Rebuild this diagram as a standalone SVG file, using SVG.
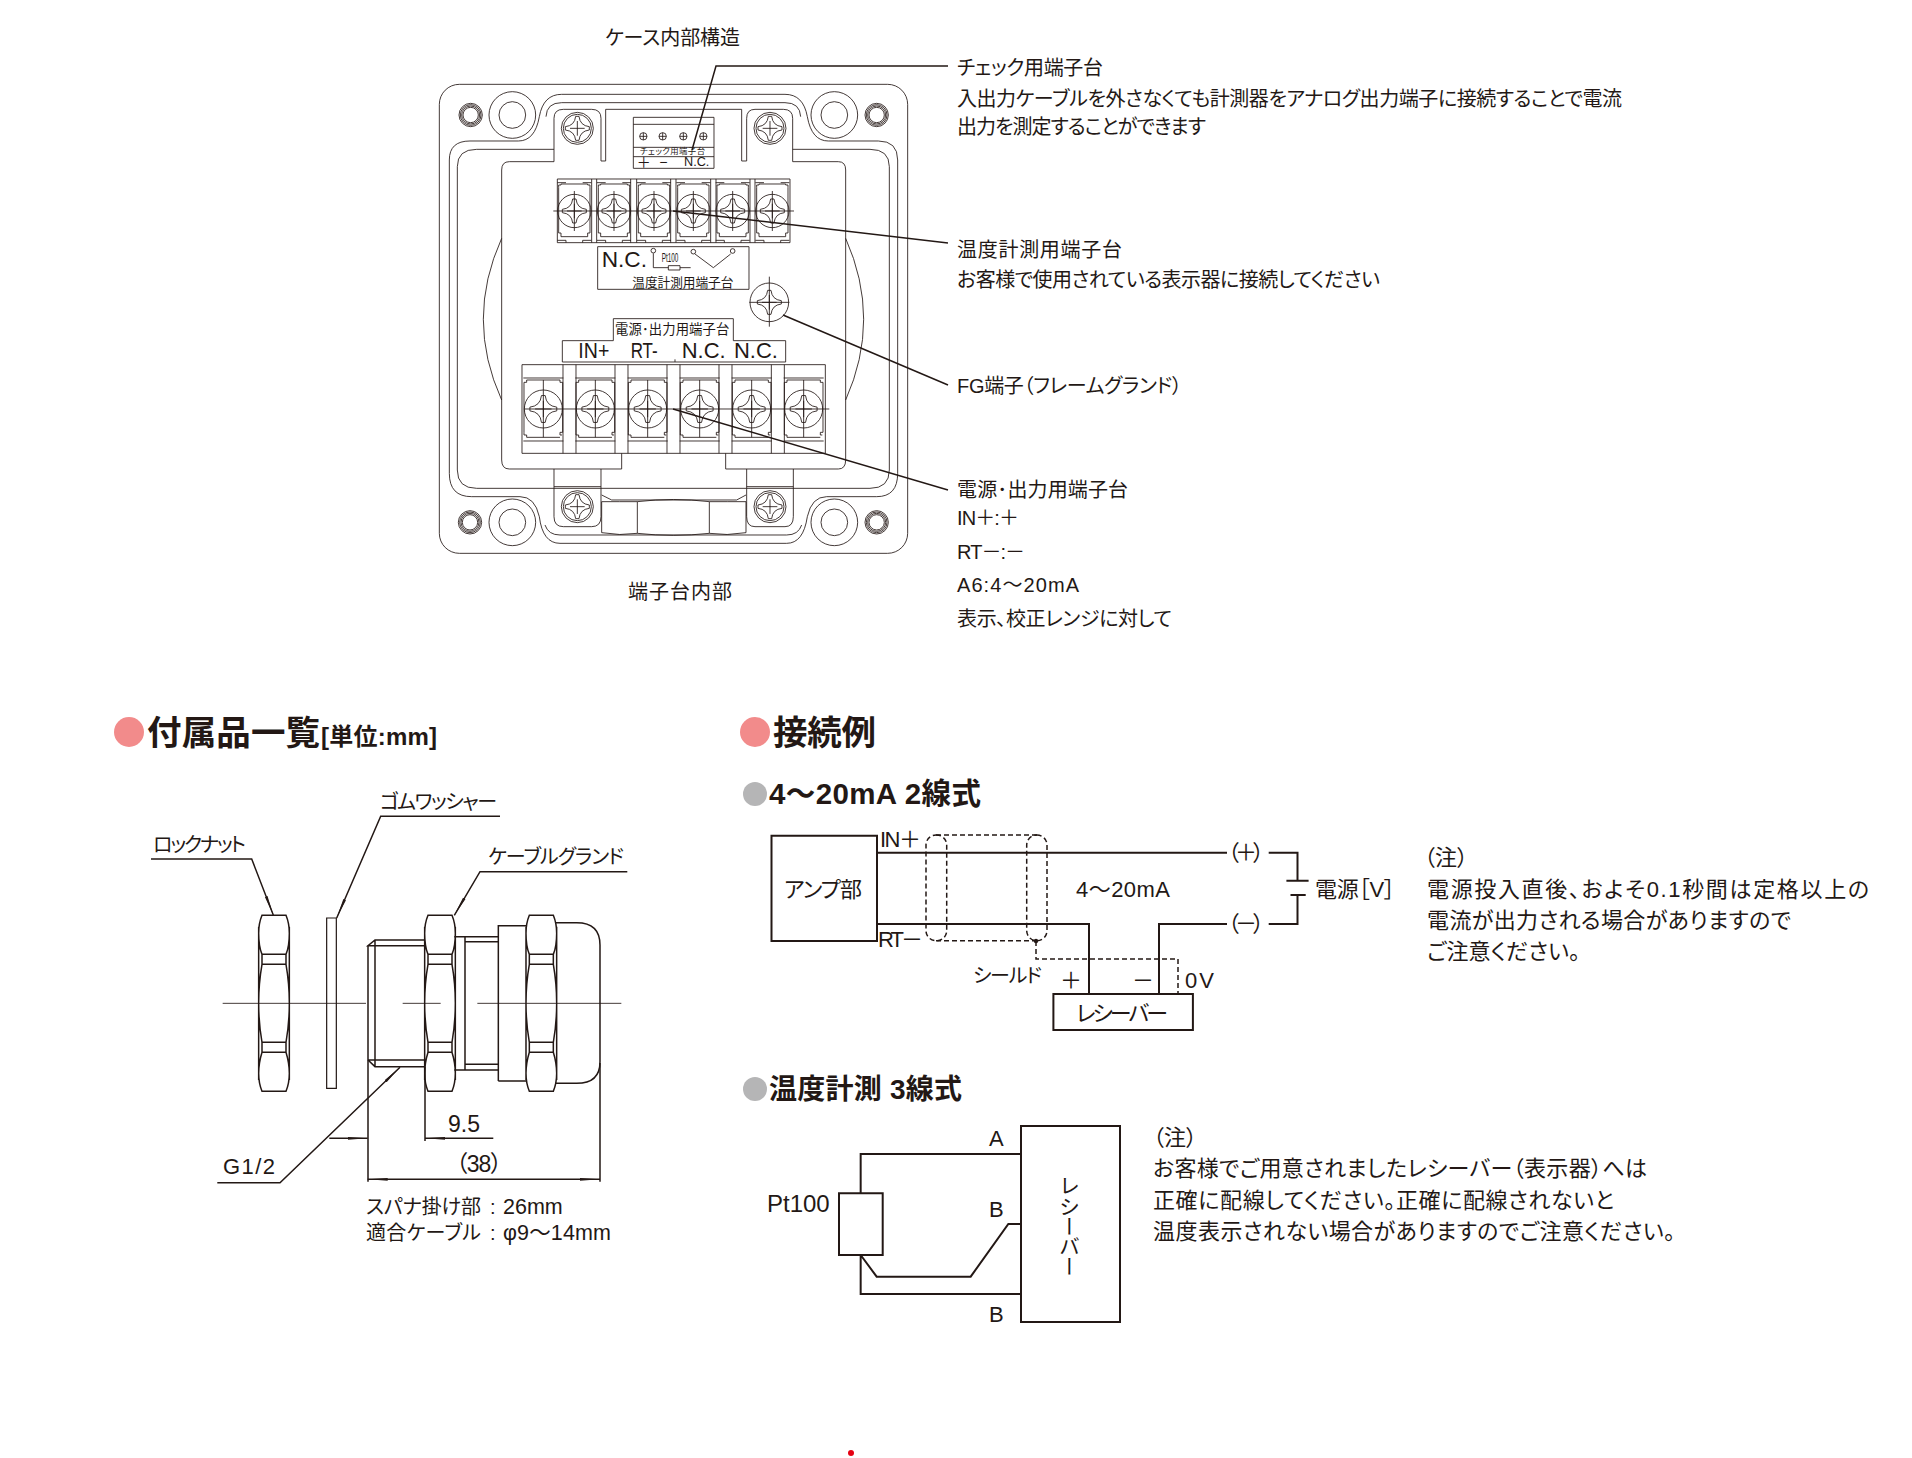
<svg xmlns="http://www.w3.org/2000/svg" width="1912" height="1458" viewBox="0 0 1912 1458">
<style>
text{font-family:"Liberation Sans","Noto Sans CJK JP",sans-serif;fill:#231815;font-feature-settings:"palt";font-weight:400}
path,circle,rect,line{vector-effect:non-scaling-stroke}
.l{fill:none;stroke:#231815;stroke-width:.85}
.m{fill:none;stroke:#231815;stroke-width:1.5}
.k{fill:none;stroke:#231815;stroke-width:2}
.d{fill:none;stroke:#231815;stroke-width:1.5;stroke-dasharray:5 3}
.t{font-size:20px}
.b{font-size:22px}
.h{font-size:34.5px;font-weight:700}
.s{font-size:28px;font-weight:700}
</style>
<defs>
<g id="star"><path d="M-5,-36 H5 Q8,-8 36,-5 V5 Q8,8 5,36 H-5 Q-8,8 -36,5 V-5 Q-8,-8 -5,-36 Z M0,-22 V22 M-22,0 H22"/></g>
<g id="lugscrew" class="l"><circle r="48"/><circle r="42"/><use href="#star" transform="scale(1)"/></g>
<g id="cellT" class="l"><circle r="50"/><use href="#star"/><path d="M0,-60 V60 M-47,-70 V-78 H-40 V-81 H40 V-78 H47 V-70 V66 H40 V77 H-40 V66 H-47 V-70 M-51,88 H-25 V95 M25,95 V88 H51 M-51,-85 H-25 M25,-85 H51"/></g>
<g id="cellL" class="l"><circle r="57"/><use href="#star" transform="scale(1.12)"/><path d="M0,-87 V85 M-58,-72 V-80 H-50 V-87 H50 V-80 H58 V-72 V70 H50 V78 H56 M-58,70 V78 H-50 V85 H50 M-58,-72 V70 M-60,-93 H60 M-60,96 H60"/></g>
<g id="nut" class="m"><path d="M10,406 H82 Q92,430 92,460 Q92,500 82,523 V553 Q92,610 92,670 Q92,730 82,787 V817 Q92,850 92,880 Q92,910 82,934 H10 Q0,910 0,880 Q0,850 10,817 V787 Q0,730 0,670 Q0,610 10,553 V523 Q0,500 0,460 Q0,430 10,406 Z M10,523 H82 M10,553 H82 M10,787 H82 M10,817 H82 M0,440 V900 M92,440 V900"/></g>
<g id="ring" class="l"><circle r="35"/><circle r="31"/><circle r="27"/><circle r="23"/></g>
<g id="hole" class="l"><circle r="70"/><circle r="40"/></g>
<marker id="arr" markerUnits="userSpaceOnUse" markerWidth="20" markerHeight="6" viewBox="0 0 20 6" refX="20" refY="3" orient="auto-start-reverse"><path d="M0,1.6 L20,3 L0,4.4 Z" fill="#231815"/></marker>
</defs>

<g id="case-body" class="l" transform="translate(420,60) scale(.33333)">
<rect x="58" y="73" width="1405" height="1407" rx="60"/>
<path d="M88,300 V1240 Q88,1310 155,1310 H300 Q345,1310 358,1370 Q368,1450 420,1450 H1100 Q1150,1450 1162,1370 Q1175,1310 1220,1310 H1370 Q1433,1310 1433,1240 V300 Q1433,243 1375,243 H1225 Q1175,243 1162,170 Q1150,103 1095,103 H425 Q370,103 358,170 Q345,243 295,243 H150 Q88,243 88,300 Z"/>
<path d="M402,268 H170 Q112,268 112,320 V1230 Q112,1285 170,1285 H980 M980,1285 H1350 Q1408,1285 1408,1230 V320 Q1408,268 1350,268 H1118 M378,170 Q380,128 425,128 H1095 Q1140,128 1142,170 M375,1395 Q385,1425 420,1425 H1100 Q1135,1425 1145,1395"/>
<path d="M605,1180 V1227 H268 Q245,1227 245,1200 V330 Q245,305 268,305 H402 V175 Q402,148 430,148 H515 Q543,148 543,175 V303 H557 V148 H965 V303 H980 V175 Q980,148 1005,148 H1090 Q1118,148 1118,175 V305 H1255 Q1277,305 1277,330 V1200 Q1277,1227 1255,1227 H917 V1180"/>
<path d="M245,535 Q135,778 245,1020 M1277,535 Q1385,778 1277,1020"/>
<path d="M402,1227 V1370 Q402,1400 430,1400 H515 Q543,1400 543,1370 V1227 M980,1227 V1370 Q980,1400 1005,1400 H1095 Q1120,1400 1120,1370 V1227"/>
<path d="M402,1280 H543 M980,1280 H1120"/>
<path d="M545,1325 V1418 Q600,1428 652,1420 Q760,1432 868,1420 Q920,1428 978,1418 V1325 M545,1325 Q600,1325 652,1325 Q760,1312 868,1325 Q920,1325 978,1325 M652,1325 V1420 M868,1325 V1420 M545,1305 L575,1320 H950 L978,1305"/>
<use href="#hole" x="277" y="165"/><use href="#hole" x="1243" y="165"/><use href="#hole" x="277" y="1387"/><use href="#hole" x="1243" y="1387"/>
<use href="#ring" x="152" y="165"/><use href="#ring" x="1370" y="165"/><use href="#ring" x="150" y="1387"/><use href="#ring" x="1370" y="1387"/>
<use href="#lugscrew" x="472" y="205"/><use href="#lugscrew" x="1050" y="205"/><use href="#lugscrew" x="472" y="1340"/><use href="#lugscrew" x="1050" y="1340"/>
</g>

<g id="check-terminal" transform="translate(420,60) scale(.33333)">
<g class="l"><rect x="640" y="172" width="242" height="153"/><path d="M640,193 H882 M640,262 H882 M640,290 H882"/>
<circle cx="670" cy="229" r="11"/><path d="M659,229 H681 M670,218 V240"/>
<circle cx="728" cy="229" r="11"/><path d="M717,229 H739 M728,218 V240"/>
<circle cx="790" cy="229" r="11"/><path d="M779,229 H801 M790,218 V240"/>
<circle cx="850" cy="229" r="11"/><path d="M839,229 H861 M850,218 V240"/></g>
<text x="660" y="283" font-size="25" textLength="195">チェック用端子台</text>
<text x="650" y="322" font-size="42">＋</text><text x="718" y="320" font-size="42">−</text><text x="792" y="318" font-size="38" textLength="76">N.C.</text>
</g>

<g id="temp-terminal" transform="translate(420,60) scale(.33333)">
<g class="l"><rect x="412" y="357" width="698" height="191"/>
<path d="M515,357 V548 M530,357 V548 M632,357 V548 M650,357 V548 M752,357 V548 M768,357 V548 M872,357 V548 M888,357 V548 M990,357 V548 M1005,357 V548 M400,453 H1122"/>
<use href="#cellT" x="463" y="453"/><use href="#cellT" x="582" y="453"/><use href="#cellT" x="702" y="453"/><use href="#cellT" x="820" y="453"/><use href="#cellT" x="938" y="453"/><use href="#cellT" x="1057" y="453"/>
<rect x="533" y="560" width="454" height="128"/>
<circle cx="700" cy="572" r="7"/><path d="M700,580 V623 H745 M780,623 H812"/><rect x="745" y="617" width="35" height="13"/>
<circle cx="820" cy="575" r="7"/><path d="M825,582 L880,623 L932,582"/><circle cx="938" cy="573" r="7"/></g>
<text x="545" y="622" font-size="68">N.C.</text>
<text x="725" y="606" font-size="36" textLength="50" lengthAdjust="spacingAndGlyphs">Pt100</text>
<text x="637" y="682" font-size="38" textLength="303">温度計測用端子台</text>
</g>

<g id="fg-terminal" class="l" transform="translate(420,60) scale(.33333)">
<circle cx="1048" cy="727" r="58"/><use href="#star" x="1048" y="727"/><path d="M1048,650 V800 M988,727 H1108"/>
</g>

<g id="power-terminal" transform="translate(420,300) scale(.33333)">
<g class="l"><rect x="306" y="194" width="910" height="266"/>
<path d="M429,194 V460 M468,194 V460 M585,194 V460 M624,194 V460 M741,194 V460 M780,194 V460 M897,194 V460 M936,194 V460 M1054,194 V460 M1093,194 V460 M314,327 H1228"/>
<use href="#cellL" x="370" y="327"/><use href="#cellL" x="526" y="327"/><use href="#cellL" x="683" y="327"/><use href="#cellL" x="839" y="327"/><use href="#cellL" x="995" y="327"/><use href="#cellL" x="1151" y="327"/>
<path d="M427,186 V122 H580 V56 H940 V122 H1097 V186 Z M765,186 V178"/></g>
<text x="585" y="103" font-size="40" textLength="343">電源･出力用端子台</text>
<text x="475" y="175" font-size="66" textLength="93" lengthAdjust="spacingAndGlyphs">IN+</text><text x="632" y="175" font-size="66" textLength="81" lengthAdjust="spacingAndGlyphs">RT-</text><text x="785" y="175" font-size="66">N.C.</text><text x="942" y="175" font-size="66">N.C.</text>
</g>

<g id="fitting" transform="translate(130,780) scale(.33333)">
<use href="#nut" x="386"/><use href="#nut" x="884"/><use href="#nut" x="1188"/>
<g class="l">
<rect x="590" y="414" width="29" height="511" style="stroke-width:1.2"/>
<path d="M885,480 H735 L714,497 H885 M714,840 H885 M885,860 H735 L714,840 M735,480 V860" style="stroke-width:1.5"/>
<path d="M973,470 H1105 M1005,485 H1105 M1005,853 H1105 M973,870 H1105 M1005,470 V870" style="stroke-width:1.5"/>
<path d="M1105,903 V437 H1190 M1105,903 H1190 M1275,428 H1340 Q1410,428 1410,495 V845 Q1410,910 1340,910 H1275" style="stroke-width:1.5"/>
<path d="M278,670 H708 M818,670 H932 M1042,670 H1474"/>
</g>
</g>

<g id="connectors">
<path class="m" d="M948,66 H716 L692,150"/>
<path class="m" d="M673,211 L948,243"/>
<path class="m" d="M783,315 L948,385"/>
<path class="m" d="M673,409 L948,490"/>
<path class="m" d="M151,859 H251.7 L273.3,915" marker-end="url(#arr)"/>
<path class="m" d="M500,816.3 H380.7 L336.7,918" marker-end="url(#arr)"/>
<path class="m" d="M627.3,871.7 H480 L454.3,915.3" marker-end="url(#arr)"/>
<path class="m" d="M217.3,1182.7 H280 L400,1067.3" marker-end="url(#arr)"/>
<path class="m" d="M368,945.7 V1181.7 M425,1066.7 V1141 M600,1063 V1181.7"/>
<path class="m" d="M329.3,1138.3 H367.7" marker-end="url(#arr)"/>
<path class="m" d="M493.3,1138.3 H425" marker-end="url(#arr)"/>
<path class="m" d="M367.7,1179.3 H600" marker-start="url(#arr)" marker-end="url(#arr)"/>
<path class="k" d="M877,852.7 H1227 M1268.7,852.7 H1297.5 V880.7 M1286.4,880.7 H1308.6 M1290.5,895 H1305.7 M1297.5,895 V924 H1268.7 M1227,924 H1159 V994 M877,924 H1089 V994"/>
<rect class="d" x="926" y="835" width="20.7" height="105.7" rx="10"/>
<rect class="d" x="1026.7" y="835" width="20.3" height="105.7" rx="10"/>
<path class="d" d="M936,835 H1037 M936,940.7 H1037 M1036,941 V959 H1178 V994"/>
<circle cx="1036" cy="941" r="2.2" fill="#231815"/>
<g transform="translate(760,1110) scale(.33333)"><path class="k" d="M302,250 V132 H783 M302,435 V552 H783 M302,435 L350,500 H632 L745,342 H783"/></g>
</g>

<g id="amp"><rect class="k" x="771.5" y="835.7" width="105.5" height="105.3"/><text class="b" x="784" y="897" textLength="78">アンプ部</text></g>
<g id="receiver-a"><rect class="k" x="1053.4" y="994" width="139.5" height="36"/><text class="b" x="1076" y="1021" textLength="92">レシーバー</text></g>
<g id="pt100"><rect class="k" x="839" y="1193.3" width="43.7" height="61.7"/><text x="767" y="1212" font-size="24">Pt100</text></g>
<g id="receiver-b"><rect class="k" x="1021" y="1126" width="99" height="196"/><text x="1068" y="1175" font-size="21" style="writing-mode:vertical-rl" textLength="102">レシーバー</text></g>

<g id="labels">
<text class="t" x="605" y="45" textLength="135">ケース内部構造</text>
<text class="t" x="628" y="599" textLength="104">端子台内部</text>
<text class="t" x="957" y="75" textLength="146">チェック用端子台</text>
<text class="t" x="957" y="106" textLength="665">入出力ケーブルを外さなくても計測器をアナログ出力端子に接続することで電流</text>
<text class="t" x="957" y="134" textLength="249">出力を測定することができます</text>
<text class="t" x="957" y="257" textLength="165">温度計測用端子台</text>
<text class="t" x="957" y="287" textLength="423">お客様で使用されている表示器に接続してください</text>
<text class="t" x="957" y="393" textLength="225">FG端子（フレームグランド）</text>
<text class="t" x="957" y="497" textLength="171">電源･出力用端子台</text>
<text class="t" x="957" y="525" textLength="62">IN＋:＋</text>
<text class="t" x="957" y="559" textLength="68">RT－:－</text>
<text class="t" x="957" y="592" textLength="122">A6:4〜20mA</text>
<text class="t" x="957" y="626" textLength="215">表示、校正レンジに対して</text>
<text class="h" x="147" y="745" textLength="173">付属品一覧</text><text x="321" y="745" font-size="24" style="font-weight:700" textLength="116">[単位:mm]</text>
<text class="h" x="773" y="745" textLength="103">接続例</text>
<text x="769" y="804" font-size="29.5" style="font-weight:700" textLength="212">4〜20mA 2線式</text>
<text class="s" x="769" y="1099" textLength="193">温度計測 3線式</text>
<text class="t" x="153" y="852" textLength="93">ロックナット</text>
<text class="t" x="380" y="809" textLength="117">ゴムワッシャー</text>
<text class="t" x="488" y="864" textLength="136">ケーブルグランド</text>
<text x="223" y="1174" font-size="22" textLength="52">G1/2</text>
<text x="448" y="1132" font-size="23">9.5</text>
<text x="456" y="1172" font-size="23" textLength="46">（38）</text>
<text class="t" x="366" y="1214"><tspan textLength="115">スパナ掛け部</tspan><tspan x="490">:</tspan><tspan x="503" font-size="21.5">26mm</tspan></text>
<text class="t" x="366" y="1240"><tspan textLength="115">適合ケーブル</tspan><tspan x="490">:</tspan><tspan x="503" font-size="21.5" textLength="108">φ9〜14mm</tspan></text>
<text class="b" x="880" y="847" textLength="41">IN＋</text>
<text class="b" x="878" y="947" textLength="45">RT－</text>
<text class="b" x="1076" y="897" textLength="94">4〜20mA</text>
<text class="b" x="1315" y="897" textLength="80">電源［V］</text>
<text class="b" x="1228" y="860" textLength="36">（＋）</text>
<text class="b" x="1228" y="931" textLength="36">（－）</text>
<text class="t" x="973" y="983" textLength="69">シールド</text>
<text class="b" x="1060" y="988">＋</text><text class="b" x="1132" y="988">－</text><text class="b" x="1185" y="988" textLength="29">0V</text>
<text class="b" x="1424" y="865">（注）</text>
<text class="b" x="1427" y="897" textLength="442">電源投入直後、およそ0.1秒間は定格以上の</text>
<text class="b" x="1427" y="928" textLength="364">電流が出力される場合がありますので</text>
<text class="b" x="1427" y="959" textLength="153">ご注意ください。</text>
<text class="b" x="989" y="1146">A</text><text class="b" x="989" y="1217">B</text><text class="b" x="989" y="1322">B</text>
<text class="b" x="1153" y="1145">（注）</text>
<text class="b" x="1153" y="1176" textLength="494">お客様でご用意されましたレシーバー（表示器）へは</text>
<text class="b" x="1153" y="1208" textLength="461">正確に配線してください。正確に配線されないと</text>
<text class="b" x="1153" y="1239" textLength="522">温度表示されない場合がありますのでご注意ください。</text>
</g>
<g id="bullets">
<circle cx="129" cy="732" r="15" fill="#f28b8b"/><circle cx="755" cy="732" r="15" fill="#f28b8b"/>
<circle cx="755" cy="794" r="12" fill="#b5b5b6"/><circle cx="755" cy="1089" r="12" fill="#b5b5b6"/>
<circle cx="851" cy="1453" r="3" fill="#e60012"/>
</g>
</svg>
